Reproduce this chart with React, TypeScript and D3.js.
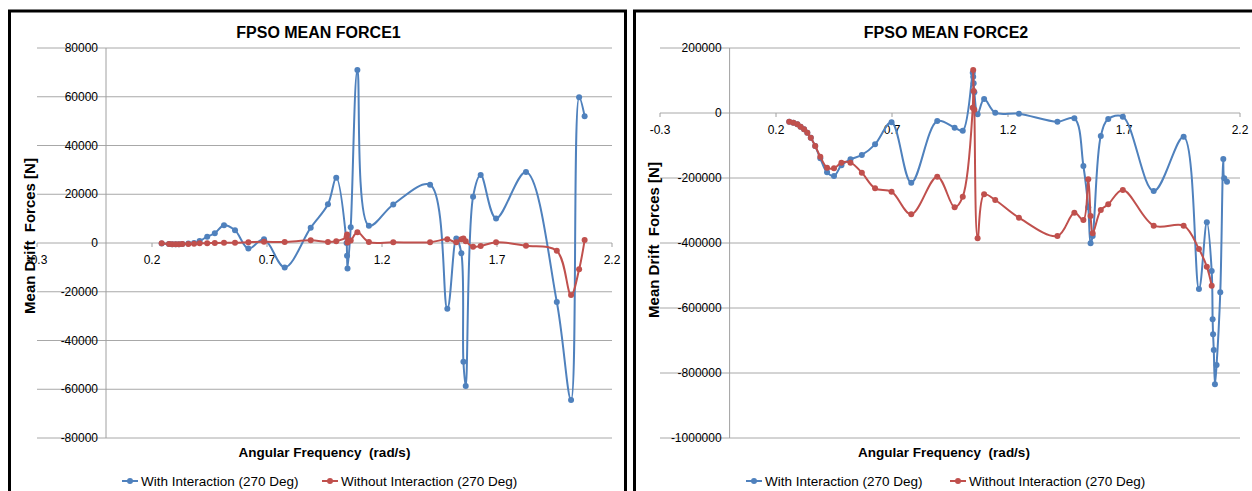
import * as React from "react";
import * as d3 from "d3";

// x axis ticks, shared by both panels
const xTicks = [-0.3, 0.2, 0.7, 1.2, 1.7, 2.2];

// FPSO MEAN FORCE1
const force1Freq = [0.242, 0.274, 0.288, 0.303, 0.317, 0.332, 0.358, 0.383, 0.407, 0.44, 0.473, 0.513, 0.561, 0.619, 0.687, 0.777, 0.89, 0.965, 1.001, 1.046, 1.048, 1.05, 1.064, 1.093, 1.143, 1.249, 1.409, 1.484, 1.523, 1.545, 1.554, 1.564, 1.596, 1.629, 1.696, 1.826, 1.96, 2.022, 2.057, 2.081];
const force1With = [-200, -400, -500, -500, -500, -400, -200, 0, 800, 2600, 4000, 7300, 5200, -2300, 1500, -10000, 6300, 15900, 26800, 0, -5200, -10500, 6500, 71000, 7100, 15800, 23900, -27000, 1800, -4200, -48700, -58700, 19000, 27900, 10100, 29100, -24200, -64400, 59800, 52000];
const force1Without = [-100, -400, -500, -500, -500, -400, -400, -300, -100, -100, 0, 100, 100, 300, 500, 400, 1100, 400, 700, 2500, 3500, 200, 1000, 4400, 400, 300, 300, 1500, 300, 1500, 1800, 700, -1500, -1200, 300, -1100, -3200, -21300, -10800, 1200];
const force1YTicks = [-80000, -60000, -40000, -20000, 0, 20000, 40000, 60000, 80000];

// FPSO MEAN FORCE2
const force2FreqWith = [0.257, 0.275, 0.292, 0.306, 0.321, 0.335, 0.35, 0.369, 0.391, 0.42, 0.45, 0.482, 0.521, 0.57, 0.627, 0.698, 0.783, 0.895, 0.97, 1.005, 1.048, 1.05, 1.052, 1.055, 1.069, 1.097, 1.145, 1.247, 1.413, 1.486, 1.525, 1.546, 1.556, 1.565, 1.6, 1.632, 1.695, 1.828, 1.957, 2.023, 2.057, 2.078, 2.082, 2.084, 2.087, 2.092, 2.099, 2.115, 2.128, 2.132, 2.144];
const force2With = [-26700, -29700, -34900, -42000, -50300, -60500, -75900, -101500, -139500, -182600, -193800, -161000, -142600, -129200, -96400, -28700, -214400, -24600, -45100, -54400, 124000, 111700, 91400, 63700, -4000, 43000, 900, -2000, -26700, -16400, -163000, -290000, -401000, -378500, -70800, -18500, -11300, -240000, -72800, -541500, -336400, -486200, -634800, -681000, -729200, -834800, -775400, -551800, -141500, -201000, -211300];
const force2FreqWithout = [0.257, 0.275, 0.292, 0.306, 0.321, 0.335, 0.35, 0.369, 0.391, 0.42, 0.45, 0.482, 0.521, 0.57, 0.627, 0.698, 0.783, 0.895, 0.97, 1.005, 1.048, 1.05, 1.052, 1.055, 1.069, 1.097, 1.145, 1.247, 1.413, 1.486, 1.525, 1.546, 1.556, 1.565, 1.6, 1.632, 1.695, 1.828, 1.957, 2.023, 2.057, 2.078];
const force2Without = [-26700, -29700, -34900, -42000, -50300, -60500, -75900, -101500, -134400, -168200, -170300, -152800, -152800, -183600, -231800, -242000, -311800, -195900, -290300, -257400, 16300, 132300, 68000, 10000, -385600, -250200, -267700, -322000, -378500, -306700, -329200, -204000, -316900, -370200, -298500, -281000, -236900, -346700, -346700, -418500, -472900, -531300];
const force2YTicks = [-1000000, -800000, -600000, -400000, -200000, 0, 200000];

const seriesNames = ["With Interaction (270 Deg)", "Without Interaction (270 Deg)"];

const BLUE = "#4F81BD";
const RED = "#C0504D";
const FONT = "Arial, 'Liberation Sans', sans-serif";

function MeanForceChart(props) {
    const { lay, title, yDomain, yTicks, series } = props;
    const x = d3.scaleLinear().domain([-0.3, 2.2]).range([lay.left, lay.right]);
    const y = d3.scaleLinear().domain(yDomain).range([lay.bottom, lay.top]);
    const line = d3.line()
        .x(d => x(d[0]))
        .y(d => y(d[1]))
        .curve(d3.curveCatmullRom.alpha(0.5));
    const x0 = x(0);
    const y0 = y(0);
    const midX = (lay.left + lay.right) / 2;

    return (
        <g>
            <rect x={lay.frameX} y={11} width={lay.frameW} height={520} fill="white" stroke="black" strokeWidth={3}/>
            <text x={midX + lay.titleDx} y={38} textAnchor="middle" fontFamily={FONT} fontWeight="bold" fontSize={16}>{title}</text>

            {yTicks.map(t => (
                <line key={"g" + t} x1={lay.left} x2={lay.right} y1={y(t)} y2={y(t)} stroke="#a8a8a8" strokeWidth={1}/>
            ))}
            <line x1={x0} x2={x0} y1={lay.top} y2={lay.bottom} stroke="#a0a0a0" strokeWidth={1}/>
            {xTicks.map(t => (
                <line key={"t" + t} x1={x(t)} x2={x(t)} y1={y0} y2={y0 + 4} stroke="#a0a0a0" strokeWidth={1}/>
            ))}
            {yTicks.map(t => (
                <text key={"yl" + t} x={x0 - 8} y={y(t) + 4} textAnchor="end" fontFamily={FONT} fontSize={12}>{t}</text>
            ))}
            {xTicks.map(t => (
                <text key={"xl" + t} x={x(t)} y={y0 + 21} textAnchor="middle" fontFamily={FONT} fontSize={12}>{t.toFixed(1)}</text>
            ))}

            {series.map(s => {
                const pts = s.x.map((v, i) => [v, s.y[i]]);
                return (
                    <g key={s.name}>
                        <path d={line(pts)} fill="none" stroke={s.color} strokeWidth={2}/>
                        {pts.map((p, i) => (
                            <circle key={i} cx={x(p[0])} cy={y(p[1])} r={3} fill={s.color}/>
                        ))}
                    </g>
                );
            })}

            <text x={midX + lay.xTitleDx} y={457} textAnchor="middle" fontFamily={FONT} fontWeight="bold" fontSize={13.5}
                  style={{whiteSpace: "pre"}}>{"Angular Frequency  (rad/s)"}</text>
            <text transform={"translate(" + lay.yTitleX + "," + lay.yTitleY + ") rotate(-90)"} textAnchor="middle"
                  fontFamily={FONT} fontWeight="bold" fontSize={15} style={{whiteSpace: "pre"}}>{"Mean Drift  Forces [N]"}</text>

            {series.map((s, i) => (
                <g key={"lg" + i} transform={"translate(" + lay.legendX[i] + ",481)"}>
                    <line x1={0} x2={16} y1={0} y2={0} stroke={s.color} strokeWidth={2}/>
                    <circle cx={8} cy={0} r={3} fill={s.color}/>
                    <text x={19} y={5} fontFamily={FONT} fontSize={13.5}>{s.name}</text>
                </g>
            ))}
        </g>
    );
}

const leftLayout = {frameX: 9.5, frameW: 616, left: 37, right: 612, top: 48, bottom: 438,
    titleDx: -6, xTitleDx: 0, yTitleX: 35, yTitleY: 236, legendX: [122, 322]};
const rightLayout = {frameX: 634.5, frameW: 640, left: 660, right: 1240, top: 48, bottom: 438,
    titleDx: -4, xTitleDx: -6, yTitleX: 659, yTitleY: 240, legendX: [746, 950]};

export default function App() {
    const s1 = [
        {name: seriesNames[0], color: BLUE, x: force1Freq, y: force1With},
        {name: seriesNames[1], color: RED, x: force1Freq, y: force1Without}
    ];
    const s2 = [
        {name: seriesNames[0], color: BLUE, x: force2FreqWith, y: force2With},
        {name: seriesNames[1], color: RED, x: force2FreqWithout, y: force2Without}
    ];
    return (
        <svg width={1252} height={491} style={{position: "absolute", left: 0, top: 0, background: "white"}}>
            <MeanForceChart lay={leftLayout} title="FPSO MEAN FORCE1" yDomain={[-80000, 80000]} yTicks={force1YTicks} series={s1}/>
            <MeanForceChart lay={rightLayout} title="FPSO MEAN FORCE2" yDomain={[-1000000, 200000]} yTicks={force2YTicks} series={s2}/>
        </svg>
    );
}
